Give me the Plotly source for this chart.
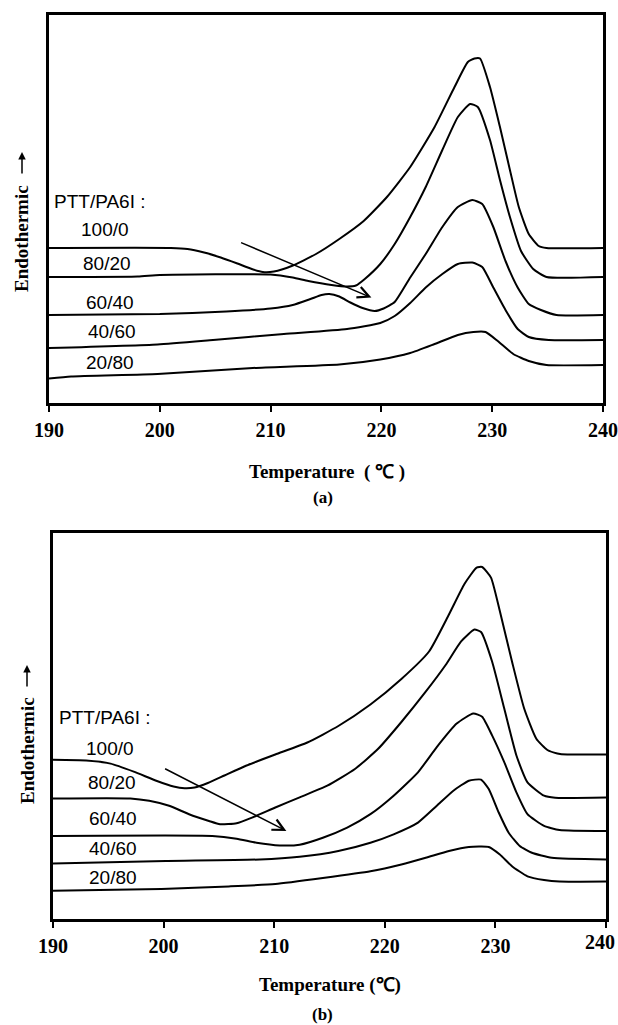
import plotly.graph_objects as go

W, H = 618, 1025

# ---------------- Panel (a) : heat flow (a.u.) vs temperature ----------------
a_100_T = [190, 201.0, 202.5, 204.0, 205.5, 207.0, 208.3, 209.3, 210.3, 211.9, 214.1, 216.2, 218.4, 220.5,
           222.6, 224.8, 226.6, 227.8, 228.4, 228.9, 229.8, 230.7, 231.6, 232.4, 233.3, 234.2, 234.9, 240]
a_100_v = [155, 155, 154, 150.5, 145.5, 139.5, 134, 131, 131.5, 137, 149, 164, 182, 206,
           236, 276, 316, 341, 344.5, 344.5, 316, 276, 233, 196, 169, 157, 155, 155]

a_80_T = [190, 198.0, 200.0, 210.0, 212.0, 213.4, 215.5, 216.9, 217.7, 218.5, 219.9, 221.2, 222.6, 224.0,
          225.5, 226.9, 228.0, 228.7, 229.8, 230.7, 231.6, 232.6, 233.7, 234.9, 240]
a_80_v = [126, 126.5, 128, 128.5, 125.5, 122, 118, 116.5, 117.5, 124, 139, 159, 186, 216,
          253, 286, 299, 296, 263, 223, 186, 152, 134, 126, 126]

a_60_T = [190, 200.0, 206.0, 210.0, 212.0, 213.6, 214.6, 215.3, 216.2, 217.2, 218.3, 219.4, 220.2,
          221.2, 222.6, 224.0, 225.5, 226.9, 228.2, 229.1, 230.1, 231.2, 232.3, 233.3, 234.4, 235.8, 240]
a_60_v = [88, 89, 91.5, 94.5, 98, 104, 108, 109, 106.5, 100.5, 95, 92, 94.5,
          101, 125.5, 149, 176, 196, 203, 199, 176, 142, 115.5, 99, 93, 88, 88]

a_40_T = [190, 199.8, 204.8, 211.2, 216.9, 219.9, 221.2, 222.6, 224.0, 225.5, 226.9, 228.2, 229.1, 230.1,
          231.2, 232.3, 233.3, 235.1, 240]
a_40_v = [55, 58.6, 63, 69, 74, 80, 87, 100, 115.5, 129, 139, 140.5, 136, 115.5,
          93, 74, 66, 63, 63]

a_20_T = [190, 192.0, 199.8, 208.4, 216.2, 219.9, 222.6, 224.8, 226.9, 228.3, 229.4, 230.5, 231.9, 233.3,
          234.9, 240]
a_20_v = [24.5, 26.5, 29, 35, 38.5, 43.5, 50, 59, 68, 71, 71, 62, 49, 42, 38, 38]

# ---------------- Panel (b) ----------------
b_100_T = [190, 193.0, 195.2, 197.3, 199.4, 200.9, 201.9, 202.8, 204.0, 205.5, 207.5, 210.1, 213.0, 215.8,
           218.7, 221.5, 224.0, 225.8, 227.2, 228.3, 228.8, 229.6, 230.4, 231.5, 232.6, 233.7, 234.7, 235.6,
           236.5, 240]
b_100_v = [159.2, 158.5, 155.4, 147.4, 138, 132.5, 130.8, 131.5, 136, 143.5, 153.5, 164.5, 176.5, 193,
           214.5, 240, 267.5, 304.5, 335, 351.4, 352, 341.4, 308, 257.5, 210.5, 180.3, 169, 165.6,
           164.5, 164.5]

b_80_T = [190, 197.0, 198.7, 200.5, 202.3, 204.1, 205.1, 206.6, 208.0, 210.1, 212.3, 214.8, 217.3, 219.4,
          221.5, 223.7, 225.5, 226.9, 228.1, 228.7, 229.7, 230.8, 231.9, 232.9, 234.4, 235.4, 240]
b_80_v = [120.6, 120.6, 118.2, 113.2, 104.8, 98, 94.7, 95.7, 101.4, 111.5, 121.6, 133.3, 150, 170.2,
          197, 227.3, 254, 277.6, 289.4, 287, 257.5, 210.5, 163.5, 136.7, 123.3, 121.3, 121.6]

b_60_T = [190, 204.4, 206.6, 208.4, 210.5, 212.3, 214.4, 216.6, 218.7, 220.8, 223.0, 224.7, 226.5, 228.0,
          228.8, 229.7, 230.8, 231.9, 232.9, 234.4, 235.8, 240]
b_60_v = [83, 83, 80.3, 76.3, 73.6, 74.3, 81.3, 91.4, 104.8, 123.3, 146.7, 171.9, 195.4, 205.5,
          202.2, 183.6, 156.8, 126.6, 104.8, 93.1, 89, 88]

b_40_T = [190, 200.2, 208.7, 212.3, 215.8, 218.7, 220.8, 223.0, 224.7, 226.2, 227.6, 228.7, 229.4, 230.3,
          231.2, 232.2, 233.3, 235.1, 240]
b_40_v = [55.5, 58, 59.5, 62.2, 68, 76.3, 84.7, 96.4, 113.2, 128.3, 138.3, 139.4, 130, 106.5,
          86.3, 73, 66.2, 61.2, 59.5]

b_20_T = [190, 199.8, 205.9, 210.1, 214.4, 218.7, 221.5, 223.7, 225.8, 227.6, 229.4, 230.4, 231.5, 232.9,
          234.4, 235.8, 240]
b_20_v = [28.3, 30, 32.6, 35, 41, 47.7, 54.5, 61.2, 68, 72, 72, 64.5, 52.8, 42.7,
          39, 37.4, 37.4]

ratio_labels = ["100/0", "80/20", "60/40", "40/60", "20/80"]
x_ticks = [190, 200, 210, 220, 230, 240]
x_tick_text = [str(t) for t in x_ticks]

# trend arrows (tail T, tail v, head T, head v)
arrow_a = [207.2, 161, 219.1, 105.4]
arrow_b = [200.0, 151, 211.1, 88]

series_a = [(a_100_T, a_100_v), (a_80_T, a_80_v), (a_60_T, a_60_v), (a_40_T, a_40_v), (a_20_T, a_20_v)]
series_b = [(b_100_T, b_100_v), (b_80_T, b_80_v), (b_60_T, b_60_v), (b_40_T, b_40_v), (b_20_T, b_20_v)]

fig = go.Figure()
for (T, v), name in zip(series_a, ratio_labels):
    fig.add_trace(go.Scatter(x=T, y=v, mode="lines", name=name, xaxis="x", yaxis="y",
                             line=dict(color="black", width=2, shape="spline", smoothing=0.5),
                             showlegend=False, hoverinfo="skip"))
for (T, v), name in zip(series_b, ratio_labels):
    fig.add_trace(go.Scatter(x=T, y=v, mode="lines", name=name, xaxis="x2", yaxis="y2",
                             line=dict(color="black", width=2, shape="spline", smoothing=0.5),
                             showlegend=False, hoverinfo="skip"))


def xd(l, r):
    return [l / W, r / W]


def yd(b, t):
    return [1 - b / H, 1 - t / H]


serif = "Liberation Serif, Times New Roman, serif"
sans = "Liberation Sans, Arial, sans-serif"
tick_font = dict(family=serif, size=20, color="black", weight="bold")

xcommon = dict(range=[190, 240], tickvals=x_ticks, ticks="outside", ticklen=6, tickwidth=2,
               tickcolor="black", showline=True, linecolor="black", linewidth=2.5, mirror=True,
               showgrid=False, zeroline=False, ticklabelstandoff=1, automargin=False,
               ticklabeloverflow="allow", tickfont=tick_font)
ycommon = dict(showticklabels=False, ticks="", showline=True, linecolor="black", linewidth=2.5,
               mirror=True, showgrid=False, zeroline=False, automargin=False)

fig.update_layout(
    width=W, height=H, autosize=False,
    margin=dict(l=0, r=0, t=0, b=0, pad=0, autoexpand=False),
    paper_bgcolor="white", plot_bgcolor="white", showlegend=False,
    xaxis=dict(domain=xd(49, 603), anchor="y", ticktext=x_tick_text, **xcommon),
    yaxis=dict(domain=yd(403, 15), range=[0, 388], anchor="x", **ycommon),
    # last label of panel (b) is placed by hand so it stays inside the page
    xaxis2=dict(domain=xd(53, 606), anchor="y2", ticktext=x_tick_text[:-1] + [""], **xcommon),
    yaxis2=dict(domain=yd(919, 533), range=[0, 386], anchor="x2", **ycommon),
)

ann = []


def txt(text, px, py, font_family, size, bold=False, xanchor="center", angle=0):
    ann.append(dict(text=text, x=px / W, y=1 - py / H, xref="paper", yref="paper",
                    xanchor=xanchor, yanchor="middle", showarrow=False, textangle=angle,
                    font=dict(family=font_family, size=size, color="black",
                              weight="bold" if bold else "normal")))


def up_arrow(px, py_head, length):
    ann.append(dict(text="", x=px / W, y=1 - py_head / H, xref="paper", yref="paper",
                    ax=0, ay=length, showarrow=True, arrowhead=2, arrowsize=1,
                    arrowwidth=1.5, arrowcolor="black"))


# Panel (a) texts
txt("Temperature  ( ℃ )", 327, 472, serif, 19, bold=True)
txt("(a)", 323, 497, serif, 17, bold=True)
txt("Endothermic", 22, 239, serif, 19, bold=True, angle=-90)
up_arrow(22, 152, 23)
txt("PTT/PA6I :", 52, 202, sans, 19, xanchor="left")
for lab, px, py in zip(ratio_labels, [105, 107, 110, 112, 110], [230, 263, 302, 331, 362]):
    txt(lab, px, py, sans, 19)

# Panel (b) texts
txt("Temperature (℃)", 330, 985, serif, 19, bold=True)
txt("(b)", 323, 1014, serif, 17, bold=True)
txt("Endothermic", 27, 751, serif, 19, bold=True, angle=-90)
up_arrow(27, 665, 23)
txt("PTT/PA6I :", 57, 717, sans, 19, xanchor="left")
for lab, px, py in zip(ratio_labels, [110, 112, 113, 113, 113], [748, 782, 818, 848, 877]):
    txt(lab, px, py, sans, 19)
txt(x_tick_text[-1], 617, 942, serif, 20, bold=True, xanchor="right")

for arr, xr, yr in [(arrow_a, "x", "y"), (arrow_b, "x2", "y2")]:
    ann.append(dict(x=arr[2], y=arr[3], ax=arr[0], ay=arr[1], xref=xr, yref=yr, axref=xr, ayref=yr,
                    text="", showarrow=True, arrowhead=5, arrowsize=1.5, arrowwidth=1.5,
                    arrowcolor="black"))

fig.update_layout(annotations=ann)
fig.write_html("out.html")
